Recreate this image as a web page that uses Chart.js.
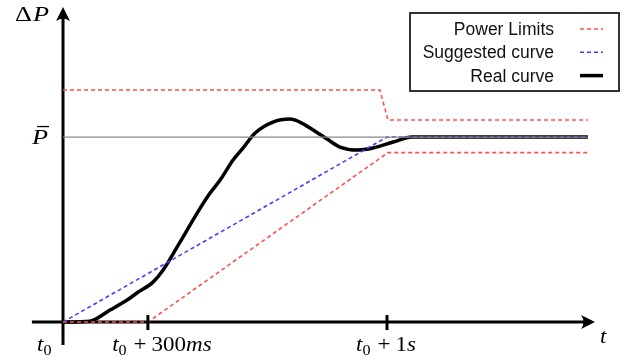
<!DOCTYPE html>
<html>
<head>
<meta charset="utf-8">
<script src="https://cdn.jsdelivr.net/npm/chart.js@4"></script>
<style>
  html, body { margin: 0; padding: 0; background: #fff; }
  #wrap { width: 635px; height: 360px; }
</style>
</head>
<body>
<div id="wrap"><canvas id="chart" width="635" height="360"></canvas></div>
<script>
'use strict';

// time axis in units of t0+1s, power in units of P-bar
let realX = [0, 0.083, 0.145, 0.198, 0.228, 0.278, 0.309, 0.352, 0.383, 0.414, 0.454, 0.485, 0.525, 0.556, 0.593, 0.648, 0.701, 0.731, 0.772, 0.815, 0.855, 0.907, 0.957, 1.019, 1.077, 1.62];
let realY = [0, 0.005, 0.065, 0.119, 0.157, 0.216, 0.281, 0.405, 0.497, 0.589, 0.697, 0.768, 0.876, 0.941, 1.022, 1.081, 1.097, 1.081, 1.038, 0.989, 0.946, 0.930, 0.941, 0.973, 1.0, 1.0];

let upperX = [0, 0.978, 1.003, 1.62];
let upperY = [1.254, 1.254, 1.092, 1.092];
let lowerX = [0, 0.262, 1.003, 1.62];
let lowerY = [0, 0, 0.916, 0.916];
let suggestedX = [0, 1.0, 1.62];
let suggestedY = [0, 1.0, 1.0];
let pBarX = [0, 1.62];
let pBarY = [1, 1];

let tickValues = [0, 0.262, 1.0];
// parts: [text, kind, space before, space after]
let tickLabels = [
  [['t', 'i'], ['0', 's']],
  [['t', 'i'], ['0', 's'], ['+', 'n', 7, 5], ['300', 'n'], ['ms', 'i']],
  [['t', 'i'], ['0', 's'], ['+', 'n', 7, 5], ['1', 'n'], ['s', 'i']]
];

function toPoints(xs, ys) {
  let pts = [];
  for (let i = 0; i < xs.length; i++) {
    pts.push({ x: xs[i], y: ys[i] });
  }
  return pts;
}

const serif = '"Liberation Serif", "DejaVu Serif", serif';

function fontFor(kind, size) {
  if (kind === 'i') return 'italic ' + size + 'px ' + serif;
  if (kind === 's') return Math.round(size * 0.7) + 'px ' + serif;
  return size + 'px ' + serif;
}

// draws a little math-like label, stretched a bit wider like the latex font
function drawMath(ctx, parts, x, y, size, align, sx) {
  let widths = [];
  let total = 0;
  for (let i = 0; i < parts.length; i++) {
    ctx.font = fontFor(parts[i][1], size);
    let w = ctx.measureText(parts[i][0]).width * sx + (parts[i][2] || 0) + (parts[i][3] || 0);
    widths.push(w);
    total += w;
  }
  let cx = x;
  if (align === 'center') cx = x - total / 2;
  ctx.textBaseline = 'alphabetic';
  ctx.textAlign = 'left';
  for (let i = 0; i < parts.length; i++) {
    ctx.font = fontFor(parts[i][1], size);
    let dy = parts[i][1] === 's' ? size * 0.22 : 0;
    ctx.save();
    ctx.translate(cx + (parts[i][2] || 0), y + dy);
    ctx.scale(sx, 1);
    ctx.fillText(parts[i][0], 0, 0);
    ctx.restore();
    cx += widths[i];
  }
}

function arrowHead(ctx, x, y, dir) {
  ctx.save();
  ctx.translate(x, y);
  if (dir === 'up') ctx.rotate(-Math.PI / 2);
  ctx.beginPath();
  ctx.moveTo(0, 0);
  ctx.lineTo(-14, -7);
  ctx.quadraticCurveTo(-9, 0, -14, 7);
  ctx.closePath();
  ctx.fill();
  ctx.restore();
}

const diagramPlugin = {
  id: 'diagram',
  beforeDatasetsDraw(chart) {
    const ctx = chart.ctx;
    const xs = chart.scales.x;
    const ys = chart.scales.y;
    const area = chart.chartArea;
    const x0 = xs.getPixelForValue(0);
    const y0 = ys.getPixelForValue(0);
    ctx.save();
    ctx.strokeStyle = '#000';
    ctx.fillStyle = '#000';
    ctx.lineWidth = 3;
    ctx.beginPath();
    ctx.moveTo(area.left, y0);
    ctx.lineTo(area.right - 8, y0);
    ctx.moveTo(x0, area.bottom);
    ctx.lineTo(x0, area.top + 8);
    ctx.stroke();
    arrowHead(ctx, area.right, y0, 'right');
    arrowHead(ctx, x0, area.top, 'up');
    ctx.restore();
  },
  afterDatasetsDraw(chart) {
    const ctx = chart.ctx;
    const xs = chart.scales.x;
    const ys = chart.scales.y;
    const y0 = ys.getPixelForValue(0);
    const x0 = xs.getPixelForValue(0);
    ctx.save();
    ctx.strokeStyle = '#000';
    ctx.fillStyle = '#000';
    ctx.lineWidth = 3;
    for (let i = 1; i < tickValues.length; i++) {
      let px = xs.getPixelForValue(tickValues[i]);
      ctx.beginPath();
      ctx.moveTo(px, y0 - 7);
      ctx.lineTo(px, y0 + 8);
      ctx.stroke();
    }
    // tick labels
    drawMath(ctx, tickLabels[0], x0 - 26, y0 + 29, 20, 'left', 1.15);
    drawMath(ctx, tickLabels[1], xs.getPixelForValue(tickValues[1]) + 14, y0 + 29, 20, 'center', 1.15);
    drawMath(ctx, tickLabels[2], xs.getPixelForValue(tickValues[2]) - 1, y0 + 29, 20, 'center', 1.15);
    // axis names
    drawMath(ctx, [['t', 'i']], chart.chartArea.right + 5, y0 + 21, 20, 'left', 1.15);
    drawMath(ctx, [['\u0394', 'n'], ['P', 'i', 1, 0]], 15, 21, 21, 'left', 1.25);
    // P bar label
    let pby = ys.getPixelForValue(1);
    drawMath(ctx, [['P', 'i']], 32, pby + 7, 21, 'left', 1.25);
    ctx.lineWidth = 1.3;
    ctx.beginPath();
    ctx.moveTo(37, pby - 10.5);
    ctx.lineTo(49, pby - 10.5);
    ctx.stroke();

    // legend box
    ctx.lineWidth = 2;
    ctx.strokeStyle = '#333';
    ctx.fillStyle = '#fff';
    ctx.fillRect(410, 13, 209, 78);
    ctx.strokeRect(410, 13, 209, 78);
    const items = chart.data.datasets.filter(d => d.inLegend);
    ctx.font = '17.5px "Liberation Sans", Arial, sans-serif';
    ctx.textAlign = 'right';
    ctx.textBaseline = 'alphabetic';
    for (let i = 0; i < items.length; i++) {
      let d = items[i];
      let ly = 29 + i * 23.3;
      ctx.fillStyle = '#111';
      ctx.fillText(d.label, 554, ly + 6);
      ctx.strokeStyle = d.borderColor;
      ctx.lineWidth = d.borderWidth;
      ctx.setLineDash(d.borderDash || []);
      ctx.beginPath();
      ctx.moveTo(580, ly);
      ctx.lineTo(603, ly);
      ctx.stroke();
      ctx.setLineDash([]);
    }
    ctx.restore();
  }
};

new Chart(document.getElementById('chart'), {
  type: 'line',
  data: {
    datasets: [
      {
        label: 'P-bar',
        data: toPoints(pBarX, pBarY),
        borderColor: '#888',
        borderWidth: 1.2,
        pointRadius: 0,
        inLegend: false
      },
      {
        label: 'Power Limits',
        data: toPoints(upperX, upperY),
        borderColor: '#ff5050',
        borderWidth: 1.6,
        borderDash: [4, 3],
        pointRadius: 0,
        inLegend: true
      },
      {
        label: 'Power Limits lower',
        data: toPoints(lowerX, lowerY),
        borderColor: '#ff5050',
        borderWidth: 1.6,
        borderDash: [4, 3],
        pointRadius: 0,
        inLegend: false
      },
      {
        label: 'Suggested curve',
        data: toPoints(suggestedX, suggestedY),
        borderColor: '#4040ff',
        borderWidth: 1.6,
        borderDash: [4, 3],
        pointRadius: 0,
        inLegend: true
      },
      {
        label: 'Real curve',
        data: toPoints(realX, realY),
        borderColor: '#000',
        borderWidth: 3.5,
        pointRadius: 0,
        cubicInterpolationMode: 'monotone',
        inLegend: true
      }
    ]
  },
  options: {
    responsive: false,
    animation: false,
    layout: { padding: { left: 31.9, right: 40, top: 7, bottom: 15 } },
    scales: {
      x: { type: 'linear', min: -0.096, max: 1.642, display: false },
      y: { type: 'linear', min: -0.124, max: 1.703, display: false }
    },
    plugins: {
      legend: { display: false },
      tooltip: { enabled: false }
    }
  },
  plugins: [diagramPlugin]
});
</script>
</body>
</html>
